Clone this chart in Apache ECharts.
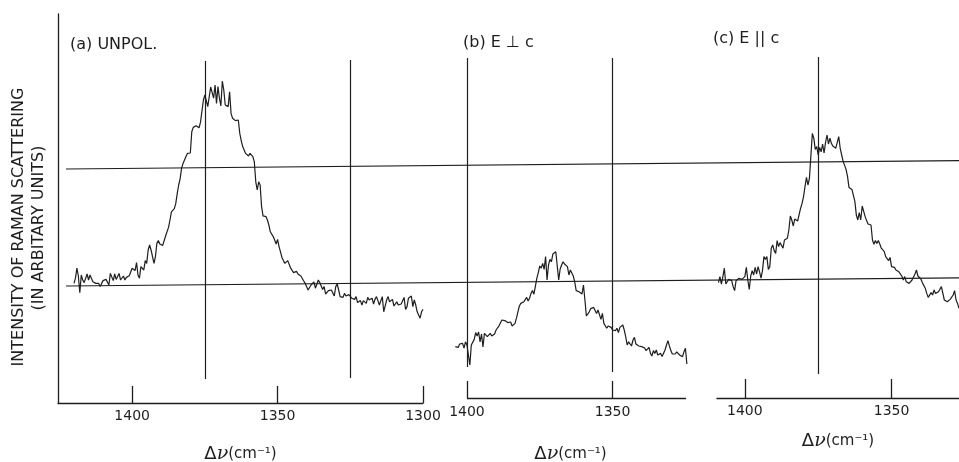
<!DOCTYPE html>
<html>
<head>
<meta charset="utf-8">
<script src="https://cdn.jsdelivr.net/npm/echarts@6/dist/echarts.min.js"></script>
<style>
  html, body { margin: 0; padding: 0; background: #ffffff; }
  #chart { width: 959px; height: 462px; }
</style>
</head>
<body>
<div id="chart"></div>
<script>
// Raman shift (cm^-1) and intensity (arbitrary units) for the three polarisations
const nuA = [
  1420,1419.5,1419,1418.5,1418,1417.5,1417,1416.5,1416,1415.5,1415,1414.5,1414,1413.5,1413,1412.5,1412,1411.5,1411,1410.5,
  1410,1409.5,1409,1408.5,1408,1407.5,1407,1406.5,1406,1405.5,1405,1404.5,1404,1403.5,1403,1402.5,1402,1401.5,1401,1400.5,
  1400,1399.5,1399,1398.5,1398,1397.5,1397,1396.5,1396,1395.5,1395,1394.5,1394,1393.5,1393,1392.5,1392,1391.5,1391,1390.5,
  1390,1389.5,1389,1388.5,1388,1387.5,1387,1386.5,1386,1385.5,1385,1384.5,1384,1383.5,1383,1382.5,1382,1381.5,1381,1380.5,
  1380,1379.5,1379,1378.5,1378,1377.5,1377,1376.5,1376,1375.5,1375,1374.5,1374,1373.5,1373,1372.5,1372,1371.5,1371,1370.5,
  1370,1369.5,1369,1368.5,1368,1367.5,1367,1366.5,1366,1365.5,1365,1364.5,1364,1363.5,1363,1362.5,1362,1361.5,1361,1360.5,
  1360,1359.5,1359,1358.5,1358,1357.5,1357,1356.5,1356,1355.5,1355,1354.5,1354,1353.5,1353,1352.5,1352,1351.5,1351,1350.5,
  1350,1349.5,1349,1348.5,1348,1347.5,1347,1346.5,1346,1345.5,1345,1344.5,1344,1343.5,1343,1342.5,1342,1341.5,1341,1340.5,
  1340,1339.5,1339,1338.5,1338,1337.5,1337,1336.5,1336,1335.5,1335,1334.5,1334,1333.5,1333,1332.5,1332,1331.5,1331,1330.5,
  1330,1329.5,1329,1328.5,1328,1327.5,1327,1326.5,1326,1325.5,1325,1324.5,1324,1323.5,1323,1322.5,1322,1321.5,1321,1320.5,
  1320,1319.5,1319,1318.5,1318,1317.5,1317,1316.5,1316,1315.5,1315,1314.5,1314,1313.5,1313,1312.5,1312,1311.5,1311,1310.5,
  1310,1309.5,1309,1308.5,1308,1307.5,1307,1306.5,1306,1305.5,1305,1304.5,1304,1303.5,1303,1302.5,1302,1301.5,1301,1300.5,
  1300];
const intA = [
  29.9,31.2,33.7,31.75,27.6,32,30.75,30.1,30.3,32.25,30.75,32,32.4,30.3,30.3,29.9,29.5,29.9,29.1,29.9,
  30.6,30.1,30.9,31.2,29.5,32.4,32,30.6,32.25,30.9,31.2,32.4,30.75,31.25,31.75,30.75,31.4,31.75,31.8,31.6,
  33.7,33.4,33.1,35.1,32,31.2,34.1,33.9,33.25,35.6,34.9,38.25,39.5,38.25,38.25,34.9,36.6,39.9,40.6,39.75,
  39.7,39.4,39.25,41.75,42.25,43.9,45.75,47.8,48.25,48.6,49.9,52.4,54.5,56.1,58.7,59.9,59.9,61.6,62.4,62.6,
  62.5,67.8,68.9,68.7,69.3,69.25,68.8,70.2,69.9,75.75,77,77.4,74.1,73.9,79,78.9,76.2,79.5,74.9,79.1,
  76.2,74.25,80.5,78.25,74.5,74.5,74.1,77.8,72.4,71.2,71.6,70.6,70.75,70.75,67.4,65.6,64.1,63.9,62.4,62.75,
  61.75,62.4,62,61.6,60.3,55.3,53.25,55.3,54.5,49.1,46.8,46.75,46.6,45.75,44.5,42.8,42.7,41.6,40.75,39.75,
  40.9,39.1,37.8,36.4,35.6,34.9,35.25,35.6,35.1,33.7,33.25,32.6,32.75,32.9,32.25,31.9,31.75,31.4,30.5,29.9,
  29.5,28.25,28.75,29.5,29.5,30.3,28.7,29.1,30.75,30.1,30.3,28.4,29.1,27.25,27,28.1,27.8,28.25,27.8,26.75,
  29.1,29.75,28.25,26.6,26.2,26.4,27.4,26.75,27,27.1,26.6,26.2,25.9,25.9,26.6,25.1,25.3,25.6,24.5,25.6,
  25.9,24.9,26.4,25.75,25.3,26.2,24.75,25.9,26.6,25.6,24.5,24.75,26.6,22.8,23.25,25.75,26.6,25.3,25.3,25.9,
  24.25,24.75,25.3,24.5,24.75,24.75,24.25,26.4,23.4,24.1,26.2,26.6,26.75,24.1,25.75,24.5,22.8,22,21.2,22.8,
  23.4];

const nuB = [
  1404,1403.5,1403,1402.5,1402,1401.5,1401,1400.5,
  1400,1399.5,1399,1398.5,1398,1397.5,1397,1396.5,1396,1395.5,1395,1394.5,1394,1393.5,1393,1392.5,1392,1391.5,1391,1390.5,
  1390,1389.5,1389,1388.5,1388,1387.5,1387,1386.5,1386,1385.5,1385,1384.5,1384,1383.5,1383,1382.5,1382,1381.5,1381,1380.5,
  1380,1379.5,1379,1378.5,1378,1377.5,1377,1376.5,1376,1375.5,1375,1374.5,1374,1373.5,1373,1372.5,1372,1371.5,1371,1370.5,
  1370,1369.5,1369,1368.5,1368,1367.5,1367,1366.5,1366,1365.5,1365,1364.5,1364,1363.5,1363,1362.5,1362,1361.5,1361,1360.5,
  1360,1359.5,1359,1358.5,1358,1357.5,1357,1356.5,1356,1355.5,1355,1354.5,1354,1353.5,1353,1352.5,1352,1351.5,1351,1350.5,
  1350,1349.5,1349,1348.5,1348,1347.5,1347,1346.5,1346,1345.5,1345,1344.5,1344,1343.5,1343,1342.5,1342,1341.5,1341,1340.5,
  1340,1339.5,1339,1338.5,1338,1337.5,1337,1336.5,1336,1335.5,1335,1334.5,1334,1333.5,1333,1332.5,1332,1331.5,1331,1330.5,
  1330,1329.5,1329,1328.5,1328,1327.5,1327,1326.5,1326,1325.5,1325,1324.5];
const intB = [
  14.1,14.25,13.9,14.75,14.25,14.9,13.7,15.3,
  14.5,14.1,9.5,14.5,14.75,15.9,17.6,16.75,17.75,15.3,17.25,14,17.4,17.75,16.6,16.4,17.4,16.75,16.9,17.25,
  18.25,18.7,19.3,19.75,20.75,20.9,20.6,20.3,20.1,19.7,20.25,19.25,19.5,19.9,21.2,22.8,24.25,24.9,24.5,25.3,
  25.6,26.4,25.5,26.2,27.4,28.1,27.2,27.25,31.2,32.6,34.25,33.7,34.9,33.4,36.6,30.75,34.5,35.9,35.3,37.25,
  37.4,37.8,38.25,30.75,33.5,34.5,35.3,34.75,34.75,34.1,32,33.25,32.8,31.75,30.3,28.1,28.25,27.8,28.1,27.25,
  29.5,25.75,21.75,21.4,22.8,23.6,23.7,23.9,24.1,22.4,23.25,22.8,20.9,22.4,19.9,19.5,18.7,19.25,18.9,18.9,
  18.25,18.25,18.1,18.7,17.6,18.9,18.9,19.5,18.25,16.6,14.5,15.3,14.9,14.25,15.75,16.4,14.75,15.1,14.25,14.75,
  14.1,13.9,13.75,13.1,13.1,13.9,12.4,11.75,13.1,12.4,13.25,12,12.4,12.4,11.6,11.4,13.25,14.5,15.6,14.25,
  13.1,12.25,12,12.25,12.8,12.6,12,12,11.6,12.8,13.7,9.75];

const nuC = [
  1409,1408.5,1408,1407.5,1407,1406.5,1406,1405.5,1405,1404.5,1404,1403.5,1403,1402.5,1402,1401.5,1401,1400.5,
  1400,1399.5,1399,1398.5,1398,1397.5,1397,1396.5,1396,1395.5,1395,1394.5,1394,1393.5,1393,1392.5,1392,1391.5,1391,1390.5,
  1390,1389.5,1389,1388.5,1388,1387.5,1387,1386.5,1386,1385.5,1385,1384.5,1384,1383.5,1383,1382.5,1382,1381.5,1381,1380.5,
  1380,1379.5,1379,1378.5,1378,1377.5,1377,1376.5,1376,1375.5,1375,1374.5,1374,1373.5,1373,1372.5,1372,1371.5,1371,1370.5,
  1370,1369.5,1369,1368.5,1368,1367.5,1367,1366.5,1366,1365.5,1365,1364.5,1364,1363.5,1363,1362.5,1362,1361.5,1361,1360.5,
  1360,1359.5,1359,1358.5,1358,1357.5,1357,1356.5,1356,1355.5,1355,1354.5,1354,1353.5,1353,1352.5,1352,1351.5,1351,1350.5,
  1350,1349.5,1349,1348.5,1348,1347.5,1347,1346.5,1346,1345.5,1345,1344.5,1344,1343.5,1343,1342.5,1342,1341.5,1341,1340.5,
  1340,1339.5,1339,1338.5,1338,1337.5,1337,1336.5,1336,1335.5,1335,1334.5,1334,1333.5,1333,1332.5,1332,1331.5,1331,1330.5,
  1330,1329.5,1329,1328.5,1328,1327.5,1327];
const intC = [
  30.1,31.6,29.7,31.6,33.7,29.75,30.1,30.9,31.2,30.6,29.1,28.1,30.6,30.1,31.2,30.9,30.9,30.75,
  31.6,33.9,30.75,28.4,31.75,33.1,32,33.9,32.25,34.1,32.8,31.2,33.1,36.6,35.9,36.6,33.4,34.1,38.7,39.5,
  38.1,37.4,40.6,39.1,40.1,40.1,38.7,40.75,40.75,41.2,43.25,46.75,45.75,44.25,46,45.75,45.5,45.9,48.7,49.9,
  51.6,54.1,56.4,54.5,56.1,56.4,67.4,66.2,63.4,64.1,62,63.9,62.8,64.75,62.5,65.1,67,64.75,66.2,64.9,
  64.25,64.1,63.7,63.25,66.6,63.7,62,60.4,60.9,58.4,56.6,53.9,53.7,53.4,53,50.4,47,45.75,47.6,45.75,
  49.25,49.5,46.6,45.6,44.75,44.25,44.5,40.75,39.7,40.6,39.9,40.6,39.75,38.7,38.4,37.9,36.6,36.75,35.6,36.4,
  34.1,33.7,33.9,33.25,33.4,32.8,32.8,31.75,30.75,31.6,30.3,30.75,29.9,30.3,30.75,30.6,32.25,33.25,31.75,32,
  31,30.1,30.6,28.7,27.4,26.4,26.3,27.6,27,28.25,27.4,27.4,27.8,28.25,29.1,29.1,25.75,26.2,25.3,25.75,
  25.9,25.75,27,28.1,25.75,24.9,23.7];

// Tick marks on each shift axis
const ticksA = [1400, 1350, 1300];
const ticksB = [1400, 1350];
const ticksC = [1400, 1350];

// Vertical marker lines: [shift, upper intensity, lower intensity]
const markersA = [[1375, 85.5, 6], [1325, 85.75, 6.25]];
const markersB = [[1400, 86.25, 9], [1350, 86.25, 7.75]];
const markersC = [[1375, 86.5, 7.25]];

// Baseline of panel (b), which starts at its 1400 tick: [from, to, level]
const baseB = [1400, 1324.8, 1.25];

// Horizontal reference levels running across all panels (level at left end, level at right end)
const refLevels = [[58.5, 60.6], [29.25, 31.3]];

const panelTitles = ['(a) UNPOL.', '(b) E \u22A5 c', '(c) E || c'];
const yTitles = ['INTENSITY OF RAMAN SCATTERING', '(IN ARBITARY UNITS)'];

const ink = '#1e1e1e';
const font = 'DejaVu Sans';

const pairs = (nu, v) => nu.map((x, i) => [x, v[i]]);
const markerData = list => list.map(m => [{ coord: [m[0], m[1]] }, { coord: [m[0], m[2]] }]);

const shiftName = {
  name: '{d|\u0394}{n|\u03BD}{u|(cm\u207B\u00B9)}',
  nameLocation: 'middle',
  nameTextStyle: {
    rich: {
      d: { fontFamily: font, fontSize: 18, color: ink },
      n: { fontFamily: 'DejaVu Serif', fontStyle: 'italic', fontSize: 19, color: ink },
      u: { fontFamily: font, fontSize: 15, color: ink }
    }
  }
};

// Shift axes run from high to low wavenumber (left to right)
function shiftAxis(grid, low, high, ticks, tickLen, margin, gap, showLine) {
  return Object.assign({}, shiftName, {
    type: 'value', gridIndex: grid, inverse: true, min: low, max: high,
    nameGap: gap,
    axisLine: { show: showLine, lineStyle: { color: ink, width: 1.3 } },
    axisTick: { show: true, inside: true, length: tickLen, customValues: ticks,
                lineStyle: { color: ink, width: 1.3 } },
    axisLabel: { show: true, customValues: ticks, margin: margin,
                 formatter: v => String(v),
                 fontFamily: font, fontSize: 14, color: ink },
    splitLine: { show: false }
  });
}

function hiddenY(grid, min) {
  return { type: 'value', gridIndex: grid, min: min, max: 97.25, show: false };
}

function spectrum(idx, data, markers) {
  return {
    type: 'line', xAxisIndex: idx, yAxisIndex: idx, data: data,
    showSymbol: false, symbol: 'none', animation: false, silent: true,
    lineStyle: { color: ink, width: 1.2 },
    markLine: {
      silent: true, animation: false, symbol: ['none', 'none'],
      label: { show: false },
      lineStyle: { type: 'solid', color: ink, width: 1.2 },
      data: markerData(markers)
    }
  };
}

const seriesB = spectrum(1, pairs(nuB, intB), markersB);
seriesB.markLine.data.push([{ coord: [baseB[0], baseB[2]], lineStyle: { width: 1.3 } },
                            { coord: [baseB[1], baseB[2]] }]);

const titleStyle = { font: '16px "DejaVu Sans"', fill: ink };

const chart = echarts.init(document.getElementById('chart'));
chart.setOption({
  backgroundColor: '#ffffff',
  animation: false,
  grid: [
    { left: 58, top: 14, width: 365, height: 389, outerBoundsMode: 'none' },
    { left: 455, top: 14, width: 231, height: 384, outerBoundsMode: 'none' },
    { left: 717, top: 14, width: 242, height: 384, outerBoundsMode: 'none' },
    { left: 66, top: 14, width: 893, height: 389, outerBoundsMode: 'none' }
  ],
  xAxis: [
    shiftAxis(0, 1300, 1425.5, ticksA, 17, 6, 42, true),
    shiftAxis(1, 1324.8, 1404.1, ticksB, 17, 7, 47, false),
    shiftAxis(2, 1327, 1409.5, ticksC, 19, 6, 34, true),
    { type: 'value', gridIndex: 3, min: 0, max: 1, show: false }
  ],
  yAxis: [
    {
      type: 'value', gridIndex: 0, min: 0, max: 97.25,
      axisLine: { show: true, lineStyle: { color: ink, width: 1.3 } },
      axisTick: { show: false }, axisLabel: { show: false }, splitLine: { show: false }
    },
    hiddenY(1, 1.25),
    hiddenY(2, 1.25),
    hiddenY(3, 0)
  ],
  graphic: [
    { type: 'text', x: 19, y: 227, rotation: Math.PI / 2,
      style: { text: yTitles[0], font: '16px "DejaVu Sans"', fill: ink, align: 'center', verticalAlign: 'middle' } },
    { type: 'text', x: 39, y: 228, rotation: Math.PI / 2,
      style: { text: yTitles[1], font: '16px "DejaVu Sans"', fill: ink, align: 'center', verticalAlign: 'middle' } },
    { type: 'text', left: 70, top: 37, style: Object.assign({ text: panelTitles[0] }, titleStyle) },
    { type: 'text', left: 463, top: 35, style: Object.assign({ text: panelTitles[1] }, titleStyle) },
    { type: 'text', left: 713, top: 31, style: Object.assign({ text: panelTitles[2] }, titleStyle) }
  ],
  series: [
    spectrum(0, pairs(nuA, intA), markersA),
    seriesB,
    spectrum(2, pairs(nuC, intC), markersC)
  ].concat(refLevels.map(r => ({
    type: 'line', xAxisIndex: 3, yAxisIndex: 3, data: [[0, r[0]], [1, r[1]]],
    showSymbol: false, symbol: 'none', animation: false, silent: true,
    lineStyle: { color: ink, width: 1.2 }
  })))
});
</script>
</body>
</html>
